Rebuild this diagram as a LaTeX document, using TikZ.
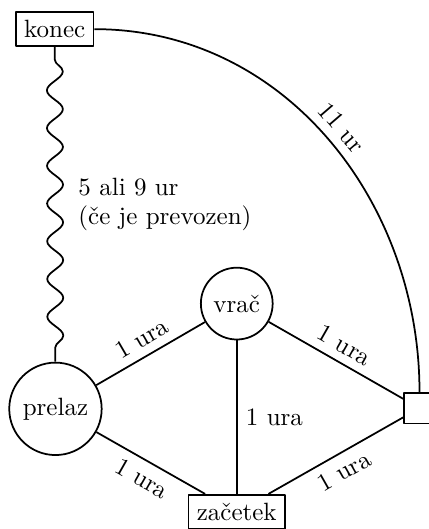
\documentclass[tikz,border=0pt]{standalone}
\usetikzlibrary{decorations.pathmorphing}
\begin{document}
\begin{tikzpicture}[line join=bevel,line width=0.7pt,
  box/.style={draw,rectangle},
  krog/.style={draw,circle,inner sep=0pt},
  val/.style={decorate,decoration={snake,amplitude=3.2pt,segment length=15.1pt,pre length=5pt,post length=5pt}},]
%%
  \useasboundingbox (0,0) rectangle (6.03,7.44);
  \node (konec) at (0.77,7.03) [box] {konec};
  \node (prelaz) at (0.78,1.69) [krog,minimum size=1.3cm] {prelaz};
  \node (vrac) at (3.33,3.17) [krog,minimum size=1.01cm] {vrač};
  \node (zacetek) at (3.33,0.24) [box] {začetek};
  \node (prazno) at (5.9,1.70) [box,minimum size=12.4pt] {};

  \draw [val] (konec) -- node[right=2mm,align=left] {5 ali 9 ur\\(če je prevozen)} (prelaz);
  \draw (konec) to[out=0,in=90] node[above,sloped] {11 ur} (prazno);
  \draw (prelaz) -- node[above,sloped] {1 ura} (vrac);
  \draw (vrac) -- node[above,sloped] {1 ura} (prazno);
  \draw (vrac) -- node[right] {1 ura} (zacetek);
  \draw (prelaz) -- node[below,sloped] {1 ura} (zacetek);
  \draw (zacetek) -- node[below,sloped] {1 ura} (prazno);
%
\end{tikzpicture}
\end{document}
